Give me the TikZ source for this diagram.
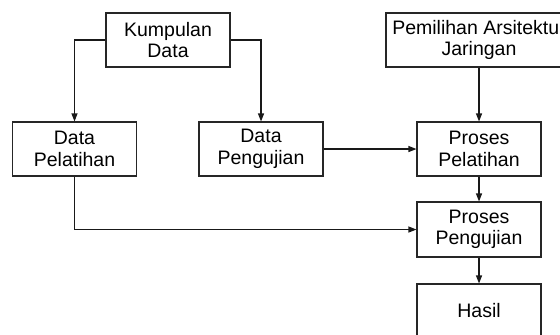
\documentclass[tikz,border=0pt]{standalone}
\usepackage{fontspec}
\setmainfont{Liberation Sans}
\usetikzlibrary{arrows.meta}
\begin{document}
\begin{tikzpicture}[x=0.5pt,y=-0.5pt,
  box/.style={draw=black!85, line width=0.55pt, minimum width=62pt, minimum height=27pt, inner sep=0pt, align=center, font=\fontsize{9.75}{10.8}\selectfont},
  conn/.style={draw=black!90, line width=0.55pt, -{Triangle[length=4pt,width=3pt]}}]
\useasboundingbox (0,0) rectangle (560,334);
\clip (0,0) rectangle (560,334);
\node[box] (k) at (168,40) {Kumpulan\\Data};
\node[box] (dp) at (74.5,149) {Data\\Pelatihan};
\node[box] (dg) at (261,149) {Data\\Pengujian};
\node[box, minimum width=93pt] (pa) at (479,40) {Pemilihan Arsitektur\\Jaringan};
\node[box] (pp) at (479,149) {Proses\\Pelatihan};
\node[box, minimum height=27.5pt] (pu) at (479,229.5) {Proses\\Pengujian};
\node[box] (h) at (479,311) {Hasil};
\draw[conn] (k.west) -| (dp.north);
\draw[conn] (k.east) -| (dg.north);
\draw[conn] (dg.east) -- (pp.west);
\draw[conn] (pa.south) -- (pp.north);
\draw[conn] (pp.south) -- (pu.north);
\draw[conn] (dp.south) |- (pu.west);
\draw[conn] (pu.south) -- (h.north);
\end{tikzpicture}
\end{document}
